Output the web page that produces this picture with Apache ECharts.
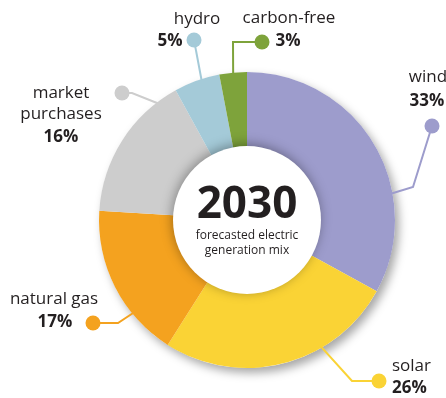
<!DOCTYPE html>
<html>
<head>
<meta charset="utf-8">
<script src="https://cdn.jsdelivr.net/npm/echarts@6/dist/echarts.min.js"></script>
<style>
  html, body { margin: 0; padding: 0; background: #fff; }
  #chart { width: 446px; height: 398px; }
</style>
</head>
<body>
<div id="chart"></div>
<script>
// Forecasted 2030 electric generation mix
const categories = ['wind', 'solar', 'natural gas', 'market purchases', 'hydro', 'carbon-free'];
const shares = [33, 26, 17, 16, 5, 3];
const nameLines = ['wind', 'solar', 'natural gas', 'market\npurchases', 'hydro', 'carbon-free'];
const yearLabel = '2030';
const captionLines = ['forecasted electric', 'generation mix'];

// slice colours, in category order
const palette = ['#9d9ccc', '#fad335', '#f4a21f', '#cdcdcd', '#a4cad8', '#7ea33b'];

const CX = 247, CY = 220, R_OUT = 148, R_IN = 74;
const FONT = '"Open Sans", sans-serif';
const TEXT = '#231f20';

// callout placement per category: name anchor, percent anchor, dot centre,
// bend points of the leader, and where along its slice the leader leaves the ring
const callouts = [
  { name: [428, 77, 'center'],  pct: [427, 101, 'center'], dot: [432, 126], bends: [[413, 187]], at: 0.67 },
  { name: [392, 366, 'left'],   pct: [392, 388, 'left'],   dot: [379, 381], bends: [[352, 381]], at: 0.33 },
  { name: [54, 299, 'center'],  pct: [55, 322, 'center'],  dot: [93, 323],  bends: [[118, 323]], at: 0.30 },
  { name: [61, 104, 'center'],  pct: [61, 137, 'center'],  dot: [122, 93],  bends: [[132, 93]],  at: 0.85 },
  { name: [197, 19, 'center'],  pct: [170, 41, 'center'],  dot: [194, 40],  bends: [],            at: 0.60 },
  { name: [289, 18, 'center'],  pct: [288, 41, 'center'],  dot: [262, 42],  bends: [[233, 42]],  at: 0.50 }
];

const total = shares.reduce((a, b) => a + b, 0);

// point on the outer rim, a given fraction of the way through slice i (clockwise from 12 o'clock)
function rimPoint(i, frac) {
  let before = 0;
  for (let k = 0; k < i; k++) before += shares[k];
  const theta = (before + frac * shares[i]) / total * Math.PI * 2;
  return [CX + (R_OUT - 1) * Math.sin(theta), CY - (R_OUT - 1) * Math.cos(theta)];
}

const ringData = categories.map((c, i) => ({
  name: c,
  value: shares[i],
  itemStyle: { color: palette[i] },
  label: {
    formatter: '{d|}',
    rich: { d: { width: 15, height: 15, borderRadius: 7.5, backgroundColor: palette[i] } }
  },
  labelLine: { lineStyle: { color: palette[i], width: 2 } }
}));

const ghostData = (fmt) => categories.map((c, i) => ({
  name: c,
  value: shares[i],
  label: { formatter: fmt(i) }
}));

const ghostSeries = (key, fmt, style) => ({
  type: 'pie',
  center: [CX, CY],
  radius: [R_IN, R_OUT],
  startAngle: 90,
  silent: true,
  z: 10,
  avoidLabelOverlap: false,
  itemStyle: { color: 'transparent' },
  label: Object.assign({ show: true, position: 'outside', color: TEXT, fontFamily: FONT }, style),
  labelLine: { show: false },
  emphasis: { disabled: true },
  labelLayout: (p) => {
    const a = callouts[p.dataIndex][key];
    return { x: a[0], y: a[1], align: a[2], verticalAlign: 'middle' };
  },
  data: ghostData(fmt)
});

const option = {
  animation: false,
  backgroundColor: '#ffffff',
  series: [
    // soft drop shadow under the ring
    {
      type: 'pie',
      center: [CX, CY],
      radius: [0, R_OUT],
      silent: true,
      z: 1,
      label: { show: false },
      itemStyle: { color: '#ffffff', shadowBlur: 10, shadowOffsetX: 4, shadowOffsetY: 5, shadowColor: 'rgba(0,0,0,0.35)' },
      emphasis: { disabled: true },
      data: [{ value: 1 }]
    },
    // the generation mix ring, with dot callouts
    {
      type: 'pie',
      center: [CX, CY],
      radius: [R_IN - 4, R_OUT],
      startAngle: 90,
      clockwise: true,
      z: 2,
      silent: true,
      avoidLabelOverlap: false,
      label: { show: true, position: 'outside' },
      labelLine: { show: true, length: 10, length2: 10 },
      emphasis: { disabled: true },
      labelLayout: (p) => {
        const c = callouts[p.dataIndex];
        const pts = [rimPoint(p.dataIndex, c.at)].concat(c.bends, [c.dot]);
        return { x: c.dot[0], y: c.dot[1], align: 'center', verticalAlign: 'middle', labelLinePoints: pts };
      },
      data: ringData
    },
    // white hub with the headline
    {
      type: 'pie',
      center: [CX, CY],
      radius: [0, R_IN],
      silent: true,
      z: 3,
      itemStyle: { color: '#ffffff', shadowBlur: 12, shadowOffsetX: -1, shadowOffsetY: -2, shadowColor: 'rgba(0,0,0,0.35)' },
      label: {
        show: true,
        position: 'center',
        formatter: '{y|' + yearLabel + '}\n' + captionLines.map(t => '{c|' + t + '}').join('\n'),
        rich: {
          y: { fontFamily: FONT, fontWeight: 'bold', fontSize: 44, lineHeight: 46, color: TEXT },
          c: { fontFamily: FONT, fontSize: 12, lineHeight: 15, color: TEXT }
        }
      },
      labelLine: { show: false },
      emphasis: { disabled: true },
      data: [{ value: 1 }]
    },
    ghostSeries('name', (i) => nameLines[i], { fontSize: 17, lineHeight: 21, align: 'center' }),
    ghostSeries('pct', (i) => shares[i] + '%', { fontSize: 17, fontWeight: 'bold' })
  ]
};

const chart = echarts.init(document.getElementById('chart'), null, { renderer: 'canvas' });
chart.setOption(option);
</script>
</body>
</html>
